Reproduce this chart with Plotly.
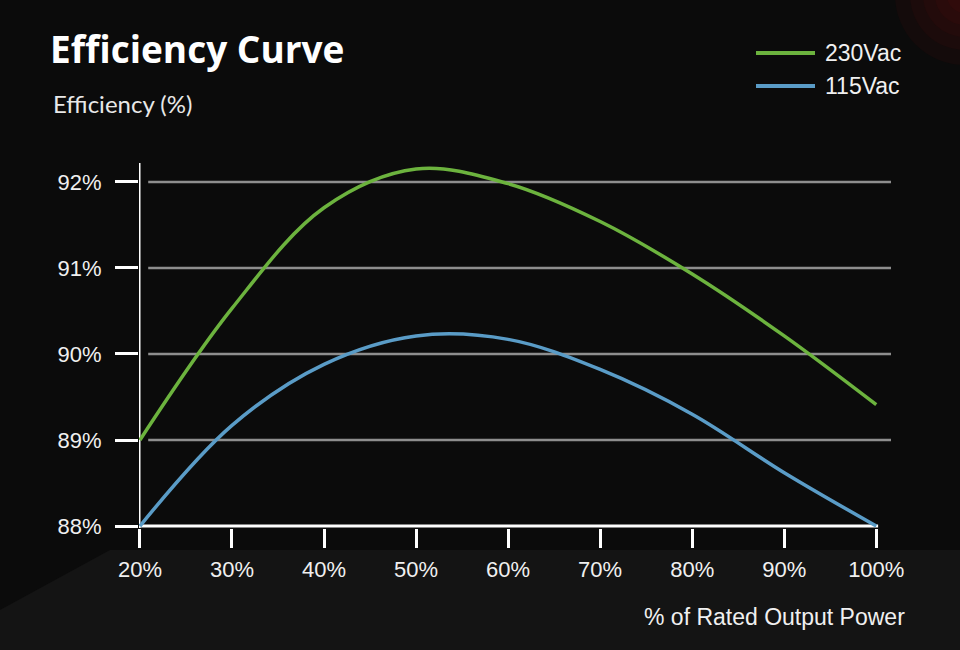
import plotly.graph_objects as go

# ---- data ----
load_pct = [20, 30, 40, 50, 60, 70, 80, 90, 100]
eff_230vac = [89.0, 90.53, 91.70, 92.15, 91.98, 91.54, 90.93, 90.21, 89.41]
eff_115vac = [88.0, 89.17, 89.88, 90.21, 90.17, 89.82, 89.30, 88.62, 88.0]
y_tick_vals = [88, 89, 90, 91, 92]
x_tick_labels = ["20%", "30%", "40%", "50%", "60%", "70%", "80%", "90%", "100%"]
y_tick_labels = ["88%", "89%", "90%", "91%", "92%"]
series_names = ["230Vac", "115Vac"]

GREEN = "#6cb33e"
BLUE = "#5a9cc7"
GRID = "#8e8e8e"
BG = "#0b0b0b"
FONT = "Liberation Sans"

# plot-area geometry (pixels) used only for converting decorations to paper coords
L, R, T, B = 139, 891, 163, 528
W, H = 960, 650


def px(xp):
    return (xp - L) / (R - L)


def py(yp):
    return (B - yp) / (B - T)


fig = go.Figure()
fig.add_trace(go.Scatter(x=load_pct, y=eff_230vac, mode="lines", name=series_names[0],
                         line=dict(color=GREEN, width=3.5, shape="spline", smoothing=1.0),
                         cliponaxis=False))
fig.add_trace(go.Scatter(x=load_pct, y=eff_115vac, mode="lines", name=series_names[1],
                         line=dict(color=BLUE, width=3.5, shape="spline", smoothing=1.0),
                         cliponaxis=False))

shapes = []
# subtle background shading
shapes.append(dict(type="path", xref="paper", yref="paper", layer="below",
                   path=f"M {px(0)},{py(650)} L {px(0)},{py(610)} L {px(110)},{py(550)} L {px(960)},{py(550)} L {px(960)},{py(650)} Z",
                   fillcolor="#141414", line=dict(width=0)))
for rad in [70, 55, 42, 30, 18]:
    shapes.append(dict(type="circle", xref="paper", yref="paper", layer="below",
                       x0=px(965 - rad), x1=px(965 + rad), y0=py(-5 + rad), y1=py(-5 - rad),
                       fillcolor="#7a1212", opacity=0.08, line=dict(width=0)))

# horizontal gridlines
for v in y_tick_vals[1:]:
    shapes.append(dict(type="line", xref="x", yref="y", x0=20.9, x1=101.6, y0=v, y1=v,
                       line=dict(color=GRID, width=2.5), layer="below"))
# axis lines
shapes.append(dict(type="line", xref="x", yref="y", x0=19.9, x1=100.2, y0=88, y1=88,
                   line=dict(color="white", width=3), layer="below"))
shapes.append(dict(type="line", xref="x", yref="paper", x0=19.9, x1=19.9, y0=py(528), y1=1,
                   line=dict(color="white", width=3), layer="below"))

# manual legend
legend_rows = [(series_names[0], GREEN, 53), (series_names[1], BLUE, 86)]
annotations = []
for name, col, yy in legend_rows:
    shapes.append(dict(type="line", xref="paper", yref="paper", x0=px(756), x1=px(815),
                       y0=py(yy), y1=py(yy), line=dict(color=col, width=4)))
    annotations.append(dict(xref="paper", yref="paper", x=px(823), y=py(yy), text=name,
                            showarrow=False, xanchor="left", yanchor="middle",
                            font=dict(family=FONT, size=23, color="#f0f0f0")))

annotations.append(dict(xref="paper", yref="paper", x=px(51), y=py(103), text="Efficiency (%)",
                        showarrow=False, xanchor="left", yanchor="middle",
                        font=dict(family="Lato", size=24, color="#e8e8e8")))
annotations.append(dict(xref="paper", yref="paper", x=px(907), y=py(617), text="% of Rated Output Power",
                        showarrow=False, xanchor="right", yanchor="middle",
                        font=dict(family=FONT, size=23, color="#f0f0f0")))

fig.update_layout(
    width=W, height=H,
    paper_bgcolor=BG, plot_bgcolor="rgba(0,0,0,0)",
    margin=dict(l=L, r=W - R, t=T, b=H - B),
    showlegend=False,
    title=dict(text="<b>Efficiency Curve</b>", x=50 / W, xref="container", xanchor="left",
               y=1 - 50 / H, yref="container", yanchor="middle",
               font=dict(family="Open Sans", size=37, color="white")),
    shapes=shapes,
    annotations=annotations,
    xaxis=dict(range=[19.9, 101.6], tickvals=load_pct, ticktext=x_tick_labels,
               showgrid=False, zeroline=False, showline=False,
               ticks="outside", ticklen=19, tickwidth=3, tickcolor="white",
               ticklabelstandoff=3,
               tickfont=dict(family=FONT, size=22, color="#f0f0f0")),
    yaxis=dict(range=[87.977, 92.22], tickvals=y_tick_vals, ticktext=y_tick_labels,
               showgrid=False, zeroline=False, showline=False,
               ticks="outside", ticklen=23, tickwidth=3, tickcolor="white",
               ticklabelstandoff=9,
               tickfont=dict(family=FONT, size=22, color="#f0f0f0")),
)

fig.write_html("out.html", config={"displayModeBar": False},
               post_script="document.body.style.margin='0';document.body.style.overflow='hidden';")
